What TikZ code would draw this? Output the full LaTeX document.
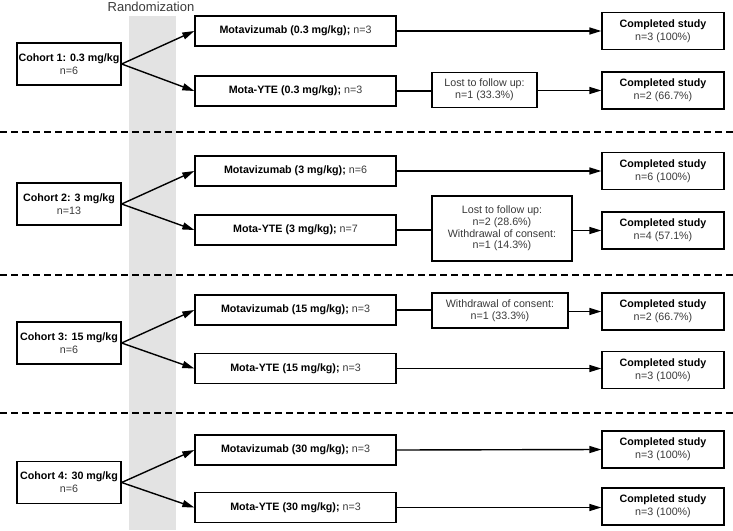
\documentclass[tikz,border=0pt]{standalone}
\usepackage{fontspec}
\setmainfont{Liberation Sans}
\usetikzlibrary{arrows.meta}
\definecolor{band}{HTML}{E3E3E3}
\definecolor{lt}{HTML}{3A3A3A}
\begin{document}
\begin{tikzpicture}[x=1pt,y=-1pt,
 box/.style={draw=black, line width=1.3pt, fill=white, align=center, inner sep=0pt, font=\fontsize{10.7}{12.7}\selectfont},
 cohort/.style={box, minimum width=104pt, minimum height=42pt},
 treat/.style={box, minimum width=201pt, minimum height=30pt},
 mid/.style={box, minimum width=105pt, minimum height=35pt, font=\fontsize{10.7}{11.8}\selectfont\color{lt}},
 done/.style={box, minimum width=122pt, minimum height=37pt},
 arr/.style={line width=1.4pt, -{Triangle[length=12pt,width=7pt]}},
 ln/.style={line width=1.4pt},
 sep/.style={line width=1.4pt, dash pattern=on 7pt off 4pt}
]
\useasboundingbox (0,0) rectangle (733,530);
\fill[band] (129,16) rectangle (176,530);
\node[font=\fontsize{13}{15}\selectfont, text=lt] (rand) at (151,7) {Randomization};

\draw[sep] (0,132) -- (733,132);
\draw[sep] (0,275) -- (733,275);
\draw[sep] (0,413) -- (733,413);

% Cohort 1
\node[cohort] (c1) at (69,64) {\textbf{Cohort 1: 0.3 mg/kg}\\{\color{lt}n=6}};
\node[treat] (m1) at (295.5,31) {\textbf{Motavizumab (0.3 mg/kg);} {\color{lt}n=3}};
\node[treat] (y1) at (295.5,91) {\textbf{Mota-YTE (0.3 mg/kg);} {\color{lt}n=3}};
\node[done] (dm1) at (663,31) {\textbf{Completed study}\\{\color{lt}n=3 (100\%)}};
\node[mid] (l1) at (484.5,90) {Lost to follow up:\\n=1 (33.3\%)};
\node[done] (dy1) at (663,90.5) {\textbf{Completed study}\\{\color{lt}n=2 (66.7\%)}};
\draw[arr] (c1.east) -- (m1.west);
\draw[arr] (c1.east) -- (y1.west);
\draw[arr] (m1.east) -- (dm1.west);
\draw[ln] (y1.east) -- (y1.east -| l1.west);
\draw[arr] (l1.east |- dy1.west) -- (dy1.west);

% Cohort 2
\node[cohort] (c2) at (69,204) {\textbf{Cohort 2: 3 mg/kg}\\{\color{lt}n=13}};
\node[treat] (m2) at (295.5,171) {\textbf{Motavizumab (3 mg/kg);} {\color{lt}n=6}};
\node[treat] (y2) at (295.5,230) {\textbf{Mota-YTE (3 mg/kg);} {\color{lt}n=7}};
\node[done] (dm2) at (663,171) {\textbf{Completed study}\\{\color{lt}n=6 (100\%)}};
\node[mid, minimum width=140pt, minimum height=65pt] (l2) at (502,228.5) {Lost to follow up:\\n=2 (28.6\%)\\Withdrawal of consent:\\n=1 (14.3\%)};
\node[done] (dy2) at (663,230.5) {\textbf{Completed study}\\{\color{lt}n=4 (57.1\%)}};
\draw[arr] (c2.east) -- (m2.west);
\draw[arr] (c2.east) -- (y2.west);
\draw[arr] (m2.east) -- (dm2.west);
\draw[ln] (y2.east) -- (y2.east -| l2.west);
\draw[arr] (l2.east |- dy2.west) -- (dy2.west);

% Cohort 3
\node[cohort] (c3) at (69,343) {\textbf{Cohort 3: 15 mg/kg}\\{\color{lt}n=6}};
\node[treat] (m3) at (295.5,310) {\textbf{Motavizumab (15 mg/kg);} {\color{lt}n=3}};
\node[treat] (y3) at (295.5,368.5) {\textbf{Mota-YTE (15 mg/kg);} {\color{lt}n=3}};
\node[mid, minimum width=136pt] (l3) at (500,310.5) {Withdrawal of consent:\\n=1 (33.3\%)};
\node[done] (dm3) at (663,311.5) {\textbf{Completed study}\\{\color{lt}n=2 (66.7\%)}};
\node[done] (dy3) at (663,370) {\textbf{Completed study}\\{\color{lt}n=3 (100\%)}};
\draw[arr] (c3.east) -- (m3.west);
\draw[arr] (c3.east) -- (y3.west);
\draw[ln] (m3.east) -- (m3.east -| l3.west);
\draw[arr] (l3.east |- dm3.west) -- (dm3.west);
\draw[arr] (y3.east) -- (y3.east -| dy3.west);

% Cohort 4
\node[cohort] (c4) at (69,482.5) {\textbf{Cohort 4: 30 mg/kg}\\{\color{lt}n=6}};
\node[treat] (m4) at (295.5,450) {\textbf{Motavizumab (30 mg/kg);} {\color{lt}n=3}};
\node[treat] (y4) at (295.5,507.5) {\textbf{Mota-YTE (30 mg/kg);} {\color{lt}n=3}};
\node[done] (dm4) at (663,449.5) {\textbf{Completed study}\\{\color{lt}n=3 (100\%)}};
\node[done] (dy4) at (663,506.5) {\textbf{Completed study}\\{\color{lt}n=3 (100\%)}};
\draw[arr] (c4.east) -- (m4.west);
\draw[arr] (c4.east) -- (y4.west);
\draw[arr] (m4.east) -- (dm4.west);
\draw[arr] (y4.east) -- (y4.east -| dy4.west);
\end{tikzpicture}
\end{document}
